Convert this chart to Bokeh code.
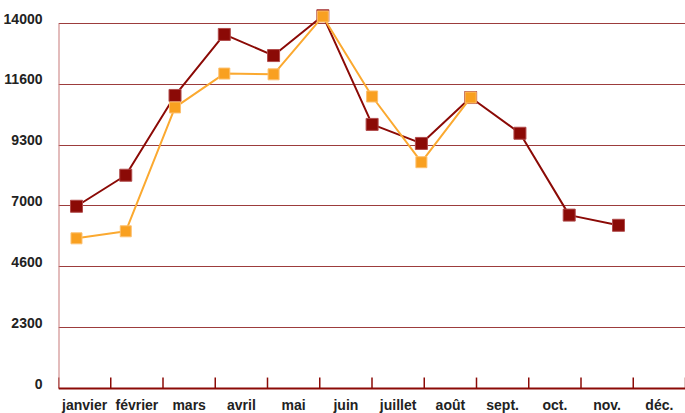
from bokeh.plotting import figure
from bokeh.models import Range1d, FixedTicker
from bokeh.core.properties import value
from bokeh.embed import file_html
from bokeh.resources import INLINE

months = ["janvier", "février", "mars", "avril", "mai", "juin", "juillet",
          "août", "sept.", "oct.", "nov.", "déc."]
series_dark = [6990, 8180, 11240, 13580, 12770, 14300, 10130, 9400, 11160, 9790, 6650, 6260]
series_orange = [5760, 6030, 10780, 12080, 12050, 14270, 11200, 8680, 11160]
y_ticks = [0, 14000 / 6, 2 * 14000 / 6, 3 * 14000 / 6, 4 * 14000 / 6, 5 * 14000 / 6, 14000]
y_labels = ["0", "2300", "4600", "7000", "9300", "11600", "14000"]

DARK = "#8b0a06"
ORANGE = "#fba930"
GRID = "#8b1a1a"
FONT = "Liberation Sans"
LABEL_Y = -650      # vertical place of the month labels, below the zero line
LABEL_LIFT = 190    # y labels sit slightly above their grid lines

p = figure(width=685, height=413, output_backend="svg", toolbar_location=None,
           x_range=Range1d(0, 12), y_range=Range1d(-959, 14882),
           min_border_left=57, min_border_right=0, min_border_top=0, min_border_bottom=0)
p.outline_line_color = None
p.background_fill_color = "white"
p.border_fill_color = "white"

# secondary x range used by the series
p.extra_x_ranges = {"pts": Range1d(-0.365, 12.36)}

p.xaxis.visible = False

label_pos = [t + LABEL_LIFT for t in y_ticks]
p.yaxis.ticker = FixedTicker(ticks=label_pos)
p.yaxis.major_label_overrides = {t: l for t, l in zip(label_pos, y_labels)}
p.yaxis.major_tick_line_color = None
p.yaxis.minor_tick_line_color = None
p.yaxis.axis_line_color = None
p.yaxis.major_label_text_font = FONT
p.yaxis.major_label_text_font_style = "bold"
p.yaxis.major_label_text_font_size = "14px"
p.yaxis.major_label_text_color = "#222222"
p.yaxis.major_label_standoff = 10

p.xgrid.grid_line_color = None
p.ygrid.ticker = FixedTicker(ticks=y_ticks[1:])
p.ygrid.grid_line_color = GRID
p.ygrid.grid_line_width = 1
p.ygrid.grid_line_alpha = 0.85

# left axis line, bottom axis line and category ticks
p.segment(x0=[0], y0=[0], x1=[0], y1=[y_ticks[-1]], line_color="#c87a7a", line_width=2)
bounds = list(range(13))
p.segment(x0=bounds, y0=[0] * 13, x1=bounds, y1=[420] * 13, line_color=DARK, line_width=1.5)
p.segment(x0=[0], y0=[0], x1=[12], y1=[0], line_color=DARK, line_width=2)

# month labels
p.text(x=[i + 0.5 for i in range(12)], y=[LABEL_Y] * 12, text=months,
       text_font=value(FONT), text_font_style="bold", text_font_size="14px",
       text_color="#222222", text_align="center", text_baseline="middle")

# series
idx_dark = list(range(len(series_dark)))
idx_orange = list(range(len(series_orange)))
p.line(idx_dark, series_dark, x_range_name="pts", line_color=DARK, line_width=2)
p.scatter(idx_dark, series_dark, x_range_name="pts", marker="square", size=12,
          fill_color=DARK, line_color="#b04a4a", line_width=1)
p.line(idx_orange, series_orange, x_range_name="pts", line_color=ORANGE, line_width=2)
p.scatter(idx_orange, series_orange, x_range_name="pts", marker="square", size=11,
          fill_color="#f9a020", line_color="#fcc070", line_width=1)

open("out.html", "w").write(file_html(p, INLINE))
